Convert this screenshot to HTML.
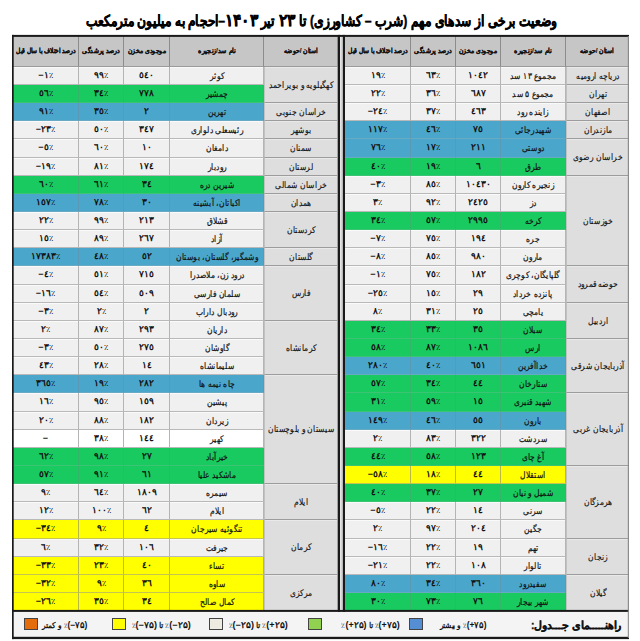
<!DOCTYPE html>
<html lang="fa"><head><meta charset="utf-8"><title>وضعیت سدها</title>
<style>
html,body{margin:0;padding:0;background:#fff;}
body{width:640px;height:641px;position:relative;overflow:hidden;font-family:"Liberation Sans",sans-serif;color:#111;}
.c{position:absolute;box-sizing:border-box;white-space:nowrap;overflow:hidden;border-right:1px solid #b4b4b4;border-bottom:1px solid #b9b9b9;}
.c span{position:absolute;left:50%;top:0;direction:rtl;transform:translateX(-50%) scaleX(.84);}
.h{background:#c6c6c6;font-weight:bold;font-size:7.3px;border-right:1px solid #8c8c8c;border-bottom:1px solid #9a9a9a;color:#111;}
.h span{top:-0.6px;-webkit-text-stroke:0.2px #111;}
.n{font-size:9px;font-weight:bold;}
.n span{direction:ltr;top:-1.2px;transform:translateX(-50%) scaleX(1);}
.n i{font-style:normal;font-weight:normal;font-size:8px;color:#000;}
.nm{font-size:9.3px;-webkit-text-stroke:0.2px #111;}
.pv{font-size:9.3px;-webkit-text-stroke:0.15px #111;background:#dedede;border-right:1px solid #a0a0a0;border-bottom:1px solid #9c9c9c;border-left:1px solid #c2c2c2;box-shadow:inset 0 1px 0 #e9e9e9;}
.w{background:#f0f0f0;box-shadow:inset 0 1px 0 #fafafa;}
.p{background:#ffffff;}
.g{background:#19ca60;border-color:#33b56a;border-bottom-color:#3cc474;}
.b{background:#4ba6cb;border-color:#5a9ab6;border-bottom-color:#68a9c4;}
.y{background:#ffff00;border-color:#b9b94a;border-bottom-color:#c4c450;}
.ln{position:absolute;background:#1c1c1c;}
#title{position:absolute;left:0;top:6.5px;width:643px;text-align:center;font-weight:bold;font-size:15px;direction:rtl;white-space:nowrap;line-height:28px;color:#000;-webkit-text-stroke:0.45px #000;transform:scaleX(0.813);}
#title b{display:inline-block;font-size:16.5px;line-height:10px;transform:scaleX(1.13);margin:0 2px;}
.lg{position:absolute;top:613px;height:24px;line-height:24px;font-size:7.5px;font-weight:bold;white-space:nowrap;color:#111;}
.lg span{position:absolute;right:0;top:0;direction:rtl;transform-origin:100% 50%;}
.lg i{font-style:normal;font-weight:normal;font-size:7px;}
.sq{position:absolute;top:617.5px;width:14px;height:12px;box-sizing:border-box;border:1px solid #444;}
</style></head>
<body>
<div id="title">وضعیت برخی از سدهای مهم (شرب – کشاورزی) تا <b>۲۳</b> تیر <b>۱۴۰۳</b>–احجام به میلیون مترمکعب</div>
<div class="c h" style="left:13px;top:36px;width:66px;height:31px;line-height:31px;"><span style="transform:translateX(-50%) scaleX(0.843)">درصد اختلاف با سال قبل</span></div>
<div class="c h" style="left:79px;top:36px;width:45px;height:31px;line-height:31px;"><span style="transform:translateX(-50%) scaleX(0.860)">درصد پرشدگی</span></div>
<div class="c h" style="left:124px;top:36px;width:46px;height:31px;line-height:31px;"><span style="transform:translateX(-50%) scaleX(0.864)">موجودی مخزن</span></div>
<div class="c h" style="left:170px;top:36px;width:94px;height:31px;line-height:31px;"><span style="transform:translateX(-50%) scaleX(0.893)">نام سد/زنجیره</span></div>
<div class="c h" style="left:264px;top:36px;width:74px;height:31px;line-height:31px;"><span style="transform:translateX(-50%) scaleX(0.872)">استان /حوضه</span></div>
<div class="c w n" style="left:13px;top:67px;width:66px;height:18px;line-height:18px;"><span>−۱<i>٪</i></span></div>
<div class="c w n" style="left:79px;top:67px;width:45px;height:18px;line-height:18px;"><span>۹۹<i>٪</i></span></div>
<div class="c w n" style="left:124px;top:67px;width:46px;height:18px;line-height:18px;"><span>٥٤۰</span></div>
<div class="c w nm" style="left:170px;top:67px;width:94px;height:18px;line-height:18px;"><span>کوثر</span></div>
<div class="c g n" style="left:13px;top:85px;width:66px;height:18px;line-height:18px;"><span>٥٦<i>٪</i></span></div>
<div class="c g n" style="left:79px;top:85px;width:45px;height:18px;line-height:18px;"><span>۳٤<i>٪</i></span></div>
<div class="c g n" style="left:124px;top:85px;width:46px;height:18px;line-height:18px;"><span>۷۷۸</span></div>
<div class="c g nm" style="left:170px;top:85px;width:94px;height:18px;line-height:18px;"><span>چمشیر</span></div>
<div class="c b n" style="left:13px;top:103px;width:66px;height:18px;line-height:18px;"><span>۹۱<i>٪</i></span></div>
<div class="c b n" style="left:79px;top:103px;width:45px;height:18px;line-height:18px;"><span>۳٥<i>٪</i></span></div>
<div class="c b n" style="left:124px;top:103px;width:46px;height:18px;line-height:18px;"><span>۲</span></div>
<div class="c b nm" style="left:170px;top:103px;width:94px;height:18px;line-height:18px;"><span>تهرین</span></div>
<div class="c w n" style="left:13px;top:121px;width:66px;height:18px;line-height:18px;"><span>−۲۳<i>٪</i></span></div>
<div class="c w n" style="left:79px;top:121px;width:45px;height:18px;line-height:18px;"><span>٥۰<i>٪</i></span></div>
<div class="c w n" style="left:124px;top:121px;width:46px;height:18px;line-height:18px;"><span>۳٤۷</span></div>
<div class="c w nm" style="left:170px;top:121px;width:94px;height:18px;line-height:18px;"><span>رئیسعلی دلواری</span></div>
<div class="c w n" style="left:13px;top:139px;width:66px;height:19px;line-height:19px;"><span>−٥<i>٪</i></span></div>
<div class="c w n" style="left:79px;top:139px;width:45px;height:19px;line-height:19px;"><span>٦۰<i>٪</i></span></div>
<div class="c w n" style="left:124px;top:139px;width:46px;height:19px;line-height:19px;"><span>۱۰</span></div>
<div class="c w nm" style="left:170px;top:139px;width:94px;height:19px;line-height:19px;"><span>دامغان</span></div>
<div class="c w n" style="left:13px;top:158px;width:66px;height:18px;line-height:18px;"><span>−۱۹<i>٪</i></span></div>
<div class="c w n" style="left:79px;top:158px;width:45px;height:18px;line-height:18px;"><span>۸۱<i>٪</i></span></div>
<div class="c w n" style="left:124px;top:158px;width:46px;height:18px;line-height:18px;"><span>۱۷٤</span></div>
<div class="c w nm" style="left:170px;top:158px;width:94px;height:18px;line-height:18px;"><span>رودبار</span></div>
<div class="c g n" style="left:13px;top:176px;width:66px;height:18px;line-height:18px;"><span>٦۰<i>٪</i></span></div>
<div class="c g n" style="left:79px;top:176px;width:45px;height:18px;line-height:18px;"><span>٦۱<i>٪</i></span></div>
<div class="c g n" style="left:124px;top:176px;width:46px;height:18px;line-height:18px;"><span>۳٤</span></div>
<div class="c g nm" style="left:170px;top:176px;width:94px;height:18px;line-height:18px;"><span>شیرین دره</span></div>
<div class="c b n" style="left:13px;top:194px;width:66px;height:18px;line-height:18px;"><span>۱٥۷<i>٪</i></span></div>
<div class="c b n" style="left:79px;top:194px;width:45px;height:18px;line-height:18px;"><span>۷۸<i>٪</i></span></div>
<div class="c b n" style="left:124px;top:194px;width:46px;height:18px;line-height:18px;"><span>۳۰</span></div>
<div class="c b nm" style="left:170px;top:194px;width:94px;height:18px;line-height:18px;"><span>اکباتان، آبشینه</span></div>
<div class="c w n" style="left:13px;top:212px;width:66px;height:18px;line-height:18px;"><span>۲۲<i>٪</i></span></div>
<div class="c w n" style="left:79px;top:212px;width:45px;height:18px;line-height:18px;"><span>۹۹<i>٪</i></span></div>
<div class="c w n" style="left:124px;top:212px;width:46px;height:18px;line-height:18px;"><span>۲۱۳</span></div>
<div class="c w nm" style="left:170px;top:212px;width:94px;height:18px;line-height:18px;"><span>قشلاق</span></div>
<div class="c w n" style="left:13px;top:230px;width:66px;height:18px;line-height:18px;"><span>۱٥<i>٪</i></span></div>
<div class="c w n" style="left:79px;top:230px;width:45px;height:18px;line-height:18px;"><span>۸۹<i>٪</i></span></div>
<div class="c w n" style="left:124px;top:230px;width:46px;height:18px;line-height:18px;"><span>۲٦۷</span></div>
<div class="c w nm" style="left:170px;top:230px;width:94px;height:18px;line-height:18px;"><span>آزاد</span></div>
<div class="c b n" style="left:13px;top:248px;width:66px;height:18px;line-height:18px;"><span>۱۷۳۸۳<i>٪</i></span></div>
<div class="c b n" style="left:79px;top:248px;width:45px;height:18px;line-height:18px;"><span>٤۸<i>٪</i></span></div>
<div class="c b n" style="left:124px;top:248px;width:46px;height:18px;line-height:18px;"><span>٥۲</span></div>
<div class="c b nm" style="left:170px;top:248px;width:94px;height:18px;line-height:18px;"><span>وشمگیر، گلستان، بوستان</span></div>
<div class="c w n" style="left:13px;top:266px;width:66px;height:19px;line-height:19px;"><span>−٤<i>٪</i></span></div>
<div class="c w n" style="left:79px;top:266px;width:45px;height:19px;line-height:19px;"><span>٥۱<i>٪</i></span></div>
<div class="c w n" style="left:124px;top:266px;width:46px;height:19px;line-height:19px;"><span>۷۱٥</span></div>
<div class="c w nm" style="left:170px;top:266px;width:94px;height:19px;line-height:19px;"><span>درود زن، ملاصدرا</span></div>
<div class="c w n" style="left:13px;top:285px;width:66px;height:18px;line-height:18px;"><span>−۱٦<i>٪</i></span></div>
<div class="c w n" style="left:79px;top:285px;width:45px;height:18px;line-height:18px;"><span>٥٤<i>٪</i></span></div>
<div class="c w n" style="left:124px;top:285px;width:46px;height:18px;line-height:18px;"><span>٥۰۹</span></div>
<div class="c w nm" style="left:170px;top:285px;width:94px;height:18px;line-height:18px;"><span>سلمان فارسی</span></div>
<div class="c w n" style="left:13px;top:303px;width:66px;height:18px;line-height:18px;"><span>−۳<i>٪</i></span></div>
<div class="c w n" style="left:79px;top:303px;width:45px;height:18px;line-height:18px;"><span>۲<i>٪</i></span></div>
<div class="c w n" style="left:124px;top:303px;width:46px;height:18px;line-height:18px;"><span>۲</span></div>
<div class="c w nm" style="left:170px;top:303px;width:94px;height:18px;line-height:18px;"><span>رودبال داراب</span></div>
<div class="c w n" style="left:13px;top:321px;width:66px;height:18px;line-height:18px;"><span>۲<i>٪</i></span></div>
<div class="c w n" style="left:79px;top:321px;width:45px;height:18px;line-height:18px;"><span>۸۷<i>٪</i></span></div>
<div class="c w n" style="left:124px;top:321px;width:46px;height:18px;line-height:18px;"><span>۲۹۳</span></div>
<div class="c w nm" style="left:170px;top:321px;width:94px;height:18px;line-height:18px;"><span>داریان</span></div>
<div class="c w n" style="left:13px;top:339px;width:66px;height:18px;line-height:18px;"><span>−۳<i>٪</i></span></div>
<div class="c w n" style="left:79px;top:339px;width:45px;height:18px;line-height:18px;"><span>٥۰<i>٪</i></span></div>
<div class="c w n" style="left:124px;top:339px;width:46px;height:18px;line-height:18px;"><span>۲۷٥</span></div>
<div class="c w nm" style="left:170px;top:339px;width:94px;height:18px;line-height:18px;"><span>گاوشان</span></div>
<div class="c w n" style="left:13px;top:357px;width:66px;height:18px;line-height:18px;"><span>٤۳<i>٪</i></span></div>
<div class="c w n" style="left:79px;top:357px;width:45px;height:18px;line-height:18px;"><span>۲۸<i>٪</i></span></div>
<div class="c w n" style="left:124px;top:357px;width:46px;height:18px;line-height:18px;"><span>۱٤</span></div>
<div class="c w nm" style="left:170px;top:357px;width:94px;height:18px;line-height:18px;"><span>سلیمانشاه</span></div>
<div class="c b n" style="left:13px;top:375px;width:66px;height:18px;line-height:18px;"><span>۳٦٥<i>٪</i></span></div>
<div class="c b n" style="left:79px;top:375px;width:45px;height:18px;line-height:18px;"><span>۱۹<i>٪</i></span></div>
<div class="c b n" style="left:124px;top:375px;width:46px;height:18px;line-height:18px;"><span>۲۸۲</span></div>
<div class="c b nm" style="left:170px;top:375px;width:94px;height:18px;line-height:18px;"><span>چاه نیمه ها</span></div>
<div class="c w n" style="left:13px;top:393px;width:66px;height:19px;line-height:19px;"><span>۱٦<i>٪</i></span></div>
<div class="c w n" style="left:79px;top:393px;width:45px;height:19px;line-height:19px;"><span>۹٥<i>٪</i></span></div>
<div class="c w n" style="left:124px;top:393px;width:46px;height:19px;line-height:19px;"><span>۱٥۹</span></div>
<div class="c w nm" style="left:170px;top:393px;width:94px;height:19px;line-height:19px;"><span>پیشین</span></div>
<div class="c w n" style="left:13px;top:412px;width:66px;height:18px;line-height:18px;"><span>۲۰<i>٪</i></span></div>
<div class="c w n" style="left:79px;top:412px;width:45px;height:18px;line-height:18px;"><span>۸۸<i>٪</i></span></div>
<div class="c w n" style="left:124px;top:412px;width:46px;height:18px;line-height:18px;"><span>۱۸۲</span></div>
<div class="c w nm" style="left:170px;top:412px;width:94px;height:18px;line-height:18px;"><span>زیردان</span></div>
<div class="c p n" style="left:13px;top:430px;width:66px;height:18px;line-height:18px;"><span>−</span></div>
<div class="c p n" style="left:79px;top:430px;width:45px;height:18px;line-height:18px;"><span>۳۸<i>٪</i></span></div>
<div class="c p n" style="left:124px;top:430px;width:46px;height:18px;line-height:18px;"><span>۱٤٤</span></div>
<div class="c p nm" style="left:170px;top:430px;width:94px;height:18px;line-height:18px;"><span>کهیر</span></div>
<div class="c g n" style="left:13px;top:448px;width:66px;height:18px;line-height:18px;"><span>٦۲<i>٪</i></span></div>
<div class="c g n" style="left:79px;top:448px;width:45px;height:18px;line-height:18px;"><span>۹۸<i>٪</i></span></div>
<div class="c g n" style="left:124px;top:448px;width:46px;height:18px;line-height:18px;"><span>۲۷</span></div>
<div class="c g nm" style="left:170px;top:448px;width:94px;height:18px;line-height:18px;"><span>خیرآباد</span></div>
<div class="c g n" style="left:13px;top:466px;width:66px;height:18px;line-height:18px;"><span>٥۷<i>٪</i></span></div>
<div class="c g n" style="left:79px;top:466px;width:45px;height:18px;line-height:18px;"><span>۹۱<i>٪</i></span></div>
<div class="c g n" style="left:124px;top:466px;width:46px;height:18px;line-height:18px;"><span>٦۱</span></div>
<div class="c g nm" style="left:170px;top:466px;width:94px;height:18px;line-height:18px;"><span>ماشکید علیا</span></div>
<div class="c w n" style="left:13px;top:484px;width:66px;height:18px;line-height:18px;"><span>۹<i>٪</i></span></div>
<div class="c w n" style="left:79px;top:484px;width:45px;height:18px;line-height:18px;"><span>٦٤<i>٪</i></span></div>
<div class="c w n" style="left:124px;top:484px;width:46px;height:18px;line-height:18px;"><span>۱۸۰۹</span></div>
<div class="c w nm" style="left:170px;top:484px;width:94px;height:18px;line-height:18px;"><span>سیمره</span></div>
<div class="c w n" style="left:13px;top:502px;width:66px;height:18px;line-height:18px;"><span>۱۲<i>٪</i></span></div>
<div class="c w n" style="left:79px;top:502px;width:45px;height:18px;line-height:18px;"><span>۱۰۰<i>٪</i></span></div>
<div class="c w n" style="left:124px;top:502px;width:46px;height:18px;line-height:18px;"><span>٦۲</span></div>
<div class="c w nm" style="left:170px;top:502px;width:94px;height:18px;line-height:18px;"><span>ایلام</span></div>
<div class="c y n" style="left:13px;top:520px;width:66px;height:19px;line-height:19px;"><span>−۳٤<i>٪</i></span></div>
<div class="c y n" style="left:79px;top:520px;width:45px;height:19px;line-height:19px;"><span>۹<i>٪</i></span></div>
<div class="c y n" style="left:124px;top:520px;width:46px;height:19px;line-height:19px;"><span>٤</span></div>
<div class="c y nm" style="left:170px;top:520px;width:94px;height:19px;line-height:19px;"><span>تنگوئیه سیرجان</span></div>
<div class="c w n" style="left:13px;top:539px;width:66px;height:18px;line-height:18px;"><span>٦<i>٪</i></span></div>
<div class="c w n" style="left:79px;top:539px;width:45px;height:18px;line-height:18px;"><span>۳۲<i>٪</i></span></div>
<div class="c w n" style="left:124px;top:539px;width:46px;height:18px;line-height:18px;"><span>۱۰٦</span></div>
<div class="c w nm" style="left:170px;top:539px;width:94px;height:18px;line-height:18px;"><span>جیرفت</span></div>
<div class="c y n" style="left:13px;top:557px;width:66px;height:18px;line-height:18px;"><span>−۳۳<i>٪</i></span></div>
<div class="c y n" style="left:79px;top:557px;width:45px;height:18px;line-height:18px;"><span>۲۳<i>٪</i></span></div>
<div class="c y n" style="left:124px;top:557px;width:46px;height:18px;line-height:18px;"><span>٤۰</span></div>
<div class="c y nm" style="left:170px;top:557px;width:94px;height:18px;line-height:18px;"><span>تساء</span></div>
<div class="c y n" style="left:13px;top:575px;width:66px;height:18px;line-height:18px;"><span>−۳۲<i>٪</i></span></div>
<div class="c y n" style="left:79px;top:575px;width:45px;height:18px;line-height:18px;"><span>۹<i>٪</i></span></div>
<div class="c y n" style="left:124px;top:575px;width:46px;height:18px;line-height:18px;"><span>۳٦</span></div>
<div class="c y nm" style="left:170px;top:575px;width:94px;height:18px;line-height:18px;"><span>ساوه</span></div>
<div class="c y n" style="left:13px;top:593px;width:66px;height:18px;line-height:18px;"><span>−۲٦<i>٪</i></span></div>
<div class="c y n" style="left:79px;top:593px;width:45px;height:18px;line-height:18px;"><span>۳٥<i>٪</i></span></div>
<div class="c y n" style="left:124px;top:593px;width:46px;height:18px;line-height:18px;"><span>۳٤</span></div>
<div class="c y nm" style="left:170px;top:593px;width:94px;height:18px;line-height:18px;"><span>کمال صالح</span></div>
<div class="c pv" style="left:264px;top:67px;width:74px;height:36px;line-height:36px;"><span>کهگیلویه و بویراحمد</span></div>
<div class="c pv" style="left:264px;top:103px;width:74px;height:18px;line-height:18px;"><span>خراسان جنوبی</span></div>
<div class="c pv" style="left:264px;top:121px;width:74px;height:18px;line-height:18px;"><span>بوشهر</span></div>
<div class="c pv" style="left:264px;top:139px;width:74px;height:19px;line-height:19px;"><span>سمنان</span></div>
<div class="c pv" style="left:264px;top:158px;width:74px;height:18px;line-height:18px;"><span>لرستان</span></div>
<div class="c pv" style="left:264px;top:176px;width:74px;height:18px;line-height:18px;"><span>خراسان شمالی</span></div>
<div class="c pv" style="left:264px;top:194px;width:74px;height:18px;line-height:18px;"><span>همدان</span></div>
<div class="c pv" style="left:264px;top:212px;width:74px;height:36px;line-height:36px;"><span>کردستان</span></div>
<div class="c pv" style="left:264px;top:248px;width:74px;height:18px;line-height:18px;"><span>گلستان</span></div>
<div class="c pv" style="left:264px;top:266px;width:74px;height:55px;line-height:55px;"><span>فارس</span></div>
<div class="c pv" style="left:264px;top:321px;width:74px;height:54px;line-height:54px;"><span>کرمانشاه</span></div>
<div class="c pv" style="left:264px;top:375px;width:74px;height:109px;line-height:109px;"><span>سیستان و بلوچستان</span></div>
<div class="c pv" style="left:264px;top:484px;width:74px;height:36px;line-height:36px;"><span>ایلام</span></div>
<div class="c pv" style="left:264px;top:520px;width:74px;height:55px;line-height:55px;"><span>کرمان</span></div>
<div class="c pv" style="left:264px;top:575px;width:74px;height:36px;line-height:36px;"><span>مرکزی</span></div>
<div class="c h" style="left:345px;top:36px;width:66px;height:31px;line-height:31px;"><span style="transform:translateX(-50%) scaleX(0.843)">درصد اختلاف با سال قبل</span></div>
<div class="c h" style="left:411px;top:36px;width:45px;height:31px;line-height:31px;"><span style="transform:translateX(-50%) scaleX(0.860)">درصد پرشدگی</span></div>
<div class="c h" style="left:456px;top:36px;width:45px;height:31px;line-height:31px;"><span style="transform:translateX(-50%) scaleX(0.864)">موجودی مخزن</span></div>
<div class="c h" style="left:501px;top:36px;width:65px;height:31px;line-height:31px;"><span style="transform:translateX(-50%) scaleX(0.893)">نام سد/زنجیره</span></div>
<div class="c h" style="left:566px;top:36px;width:63px;height:31px;line-height:31px;"><span style="transform:translateX(-50%) scaleX(0.872)">استان /حوضه</span></div>
<div class="c w n" style="left:345px;top:67px;width:66px;height:18px;line-height:18px;"><span>۱۹<i>٪</i></span></div>
<div class="c w n" style="left:411px;top:67px;width:45px;height:18px;line-height:18px;"><span>٦۳<i>٪</i></span></div>
<div class="c w n" style="left:456px;top:67px;width:45px;height:18px;line-height:18px;"><span>۱۰٤۲</span></div>
<div class="c w nm" style="left:501px;top:67px;width:65px;height:18px;line-height:18px;"><span>مجموع ۱۳ سد</span></div>
<div class="c w n" style="left:345px;top:85px;width:66px;height:18px;line-height:18px;"><span>۲۲<i>٪</i></span></div>
<div class="c w n" style="left:411px;top:85px;width:45px;height:18px;line-height:18px;"><span>۳٦<i>٪</i></span></div>
<div class="c w n" style="left:456px;top:85px;width:45px;height:18px;line-height:18px;"><span>٦۸۷</span></div>
<div class="c w nm" style="left:501px;top:85px;width:65px;height:18px;line-height:18px;"><span>مجموع ۵ سد</span></div>
<div class="c w n" style="left:345px;top:103px;width:66px;height:18px;line-height:18px;"><span>−۲٤<i>٪</i></span></div>
<div class="c w n" style="left:411px;top:103px;width:45px;height:18px;line-height:18px;"><span>۳۷<i>٪</i></span></div>
<div class="c w n" style="left:456px;top:103px;width:45px;height:18px;line-height:18px;"><span>٤٦۳</span></div>
<div class="c w nm" style="left:501px;top:103px;width:65px;height:18px;line-height:18px;"><span>زاینده رود</span></div>
<div class="c b n" style="left:345px;top:121px;width:66px;height:18px;line-height:18px;"><span>۱۱۷<i>٪</i></span></div>
<div class="c b n" style="left:411px;top:121px;width:45px;height:18px;line-height:18px;"><span>٤٦<i>٪</i></span></div>
<div class="c b n" style="left:456px;top:121px;width:45px;height:18px;line-height:18px;"><span>۷٥</span></div>
<div class="c b nm" style="left:501px;top:121px;width:65px;height:18px;line-height:18px;"><span>شهیدرجائی</span></div>
<div class="c b n" style="left:345px;top:139px;width:66px;height:19px;line-height:19px;"><span>۷٦<i>٪</i></span></div>
<div class="c b n" style="left:411px;top:139px;width:45px;height:19px;line-height:19px;"><span>۱۷<i>٪</i></span></div>
<div class="c b n" style="left:456px;top:139px;width:45px;height:19px;line-height:19px;"><span>۲۱۱</span></div>
<div class="c b nm" style="left:501px;top:139px;width:65px;height:19px;line-height:19px;"><span>دوستی</span></div>
<div class="c g n" style="left:345px;top:158px;width:66px;height:18px;line-height:18px;"><span>٤۰<i>٪</i></span></div>
<div class="c g n" style="left:411px;top:158px;width:45px;height:18px;line-height:18px;"><span>۱۹<i>٪</i></span></div>
<div class="c g n" style="left:456px;top:158px;width:45px;height:18px;line-height:18px;"><span>٦</span></div>
<div class="c g nm" style="left:501px;top:158px;width:65px;height:18px;line-height:18px;"><span>طرق</span></div>
<div class="c w n" style="left:345px;top:176px;width:66px;height:18px;line-height:18px;"><span>−۳<i>٪</i></span></div>
<div class="c w n" style="left:411px;top:176px;width:45px;height:18px;line-height:18px;"><span>۸٥<i>٪</i></span></div>
<div class="c w n" style="left:456px;top:176px;width:45px;height:18px;line-height:18px;"><span>۱۰٤۳۰</span></div>
<div class="c w nm" style="left:501px;top:176px;width:65px;height:18px;line-height:18px;"><span>زنجیره کارون</span></div>
<div class="c w n" style="left:345px;top:194px;width:66px;height:18px;line-height:18px;"><span>۳<i>٪</i></span></div>
<div class="c w n" style="left:411px;top:194px;width:45px;height:18px;line-height:18px;"><span>۹۲<i>٪</i></span></div>
<div class="c w n" style="left:456px;top:194px;width:45px;height:18px;line-height:18px;"><span>۲٤۲٥</span></div>
<div class="c w nm" style="left:501px;top:194px;width:65px;height:18px;line-height:18px;"><span>دز</span></div>
<div class="c g n" style="left:345px;top:212px;width:66px;height:18px;line-height:18px;"><span>۳٤<i>٪</i></span></div>
<div class="c g n" style="left:411px;top:212px;width:45px;height:18px;line-height:18px;"><span>٥۷<i>٪</i></span></div>
<div class="c g n" style="left:456px;top:212px;width:45px;height:18px;line-height:18px;"><span>۲۹۹٥</span></div>
<div class="c g nm" style="left:501px;top:212px;width:65px;height:18px;line-height:18px;"><span>کرخه</span></div>
<div class="c w n" style="left:345px;top:230px;width:66px;height:18px;line-height:18px;"><span>−۷<i>٪</i></span></div>
<div class="c w n" style="left:411px;top:230px;width:45px;height:18px;line-height:18px;"><span>۷٥<i>٪</i></span></div>
<div class="c w n" style="left:456px;top:230px;width:45px;height:18px;line-height:18px;"><span>۱۹٤</span></div>
<div class="c w nm" style="left:501px;top:230px;width:65px;height:18px;line-height:18px;"><span>جره</span></div>
<div class="c w n" style="left:345px;top:248px;width:66px;height:18px;line-height:18px;"><span>−۸<i>٪</i></span></div>
<div class="c w n" style="left:411px;top:248px;width:45px;height:18px;line-height:18px;"><span>۸٥<i>٪</i></span></div>
<div class="c w n" style="left:456px;top:248px;width:45px;height:18px;line-height:18px;"><span>۹۸۰</span></div>
<div class="c w nm" style="left:501px;top:248px;width:65px;height:18px;line-height:18px;"><span>مارون</span></div>
<div class="c w n" style="left:345px;top:266px;width:66px;height:19px;line-height:19px;"><span>−۱<i>٪</i></span></div>
<div class="c w n" style="left:411px;top:266px;width:45px;height:19px;line-height:19px;"><span>۷٥<i>٪</i></span></div>
<div class="c w n" style="left:456px;top:266px;width:45px;height:19px;line-height:19px;"><span>۱۸۲</span></div>
<div class="c w nm" style="left:501px;top:266px;width:65px;height:19px;line-height:19px;"><span>گلپایگان، کوچری</span></div>
<div class="c w n" style="left:345px;top:285px;width:66px;height:18px;line-height:18px;"><span>−۲٥<i>٪</i></span></div>
<div class="c w n" style="left:411px;top:285px;width:45px;height:18px;line-height:18px;"><span>۱٥<i>٪</i></span></div>
<div class="c w n" style="left:456px;top:285px;width:45px;height:18px;line-height:18px;"><span>۲۹</span></div>
<div class="c w nm" style="left:501px;top:285px;width:65px;height:18px;line-height:18px;"><span>پانزده خرداد</span></div>
<div class="c w n" style="left:345px;top:303px;width:66px;height:18px;line-height:18px;"><span>۸<i>٪</i></span></div>
<div class="c w n" style="left:411px;top:303px;width:45px;height:18px;line-height:18px;"><span>۳۱<i>٪</i></span></div>
<div class="c w n" style="left:456px;top:303px;width:45px;height:18px;line-height:18px;"><span>۲٥</span></div>
<div class="c w nm" style="left:501px;top:303px;width:65px;height:18px;line-height:18px;"><span>یامچی</span></div>
<div class="c g n" style="left:345px;top:321px;width:66px;height:18px;line-height:18px;"><span>۳٤<i>٪</i></span></div>
<div class="c g n" style="left:411px;top:321px;width:45px;height:18px;line-height:18px;"><span>۳۳<i>٪</i></span></div>
<div class="c g n" style="left:456px;top:321px;width:45px;height:18px;line-height:18px;"><span>۳٥</span></div>
<div class="c g nm" style="left:501px;top:321px;width:65px;height:18px;line-height:18px;"><span>سبلان</span></div>
<div class="c g n" style="left:345px;top:339px;width:66px;height:18px;line-height:18px;"><span>٥۸<i>٪</i></span></div>
<div class="c g n" style="left:411px;top:339px;width:45px;height:18px;line-height:18px;"><span>۸۷<i>٪</i></span></div>
<div class="c g n" style="left:456px;top:339px;width:45px;height:18px;line-height:18px;"><span>۱۰۸٦</span></div>
<div class="c g nm" style="left:501px;top:339px;width:65px;height:18px;line-height:18px;"><span>ارس</span></div>
<div class="c b n" style="left:345px;top:357px;width:66px;height:18px;line-height:18px;"><span>۲۸۰<i>٪</i></span></div>
<div class="c b n" style="left:411px;top:357px;width:45px;height:18px;line-height:18px;"><span>٤۰<i>٪</i></span></div>
<div class="c b n" style="left:456px;top:357px;width:45px;height:18px;line-height:18px;"><span>٦٥۱</span></div>
<div class="c b nm" style="left:501px;top:357px;width:65px;height:18px;line-height:18px;"><span>خداآفرین</span></div>
<div class="c g n" style="left:345px;top:375px;width:66px;height:18px;line-height:18px;"><span>٥۷<i>٪</i></span></div>
<div class="c g n" style="left:411px;top:375px;width:45px;height:18px;line-height:18px;"><span>۳٤<i>٪</i></span></div>
<div class="c g n" style="left:456px;top:375px;width:45px;height:18px;line-height:18px;"><span>٤٤</span></div>
<div class="c g nm" style="left:501px;top:375px;width:65px;height:18px;line-height:18px;"><span>ستارخان</span></div>
<div class="c g n" style="left:345px;top:393px;width:66px;height:19px;line-height:19px;"><span>۳۱<i>٪</i></span></div>
<div class="c g n" style="left:411px;top:393px;width:45px;height:19px;line-height:19px;"><span>٥۹<i>٪</i></span></div>
<div class="c g n" style="left:456px;top:393px;width:45px;height:19px;line-height:19px;"><span>۱٥</span></div>
<div class="c g nm" style="left:501px;top:393px;width:65px;height:19px;line-height:19px;"><span>شهید قنبری</span></div>
<div class="c b n" style="left:345px;top:412px;width:66px;height:18px;line-height:18px;"><span>۱٤۹<i>٪</i></span></div>
<div class="c b n" style="left:411px;top:412px;width:45px;height:18px;line-height:18px;"><span>٤٦<i>٪</i></span></div>
<div class="c b n" style="left:456px;top:412px;width:45px;height:18px;line-height:18px;"><span>٥٥</span></div>
<div class="c b nm" style="left:501px;top:412px;width:65px;height:18px;line-height:18px;"><span>بارون</span></div>
<div class="c w n" style="left:345px;top:430px;width:66px;height:18px;line-height:18px;"><span>۲<i>٪</i></span></div>
<div class="c w n" style="left:411px;top:430px;width:45px;height:18px;line-height:18px;"><span>۸۳<i>٪</i></span></div>
<div class="c w n" style="left:456px;top:430px;width:45px;height:18px;line-height:18px;"><span>۳۲۲</span></div>
<div class="c w nm" style="left:501px;top:430px;width:65px;height:18px;line-height:18px;"><span>سردشت</span></div>
<div class="c g n" style="left:345px;top:448px;width:66px;height:18px;line-height:18px;"><span>٤٤<i>٪</i></span></div>
<div class="c g n" style="left:411px;top:448px;width:45px;height:18px;line-height:18px;"><span>٥۸<i>٪</i></span></div>
<div class="c g n" style="left:456px;top:448px;width:45px;height:18px;line-height:18px;"><span>۱۲۳</span></div>
<div class="c g nm" style="left:501px;top:448px;width:65px;height:18px;line-height:18px;"><span>آغ چای</span></div>
<div class="c y n" style="left:345px;top:466px;width:66px;height:18px;line-height:18px;"><span>−٥۸<i>٪</i></span></div>
<div class="c y n" style="left:411px;top:466px;width:45px;height:18px;line-height:18px;"><span>۱۸<i>٪</i></span></div>
<div class="c y n" style="left:456px;top:466px;width:45px;height:18px;line-height:18px;"><span>٤٤</span></div>
<div class="c y nm" style="left:501px;top:466px;width:65px;height:18px;line-height:18px;"><span>استقلال</span></div>
<div class="c g n" style="left:345px;top:484px;width:66px;height:18px;line-height:18px;"><span>٤۰<i>٪</i></span></div>
<div class="c g n" style="left:411px;top:484px;width:45px;height:18px;line-height:18px;"><span>۳۷<i>٪</i></span></div>
<div class="c g n" style="left:456px;top:484px;width:45px;height:18px;line-height:18px;"><span>۲۷</span></div>
<div class="c g nm" style="left:501px;top:484px;width:65px;height:18px;line-height:18px;"><span>شمیل و نیان</span></div>
<div class="c w n" style="left:345px;top:502px;width:66px;height:18px;line-height:18px;"><span>−٥<i>٪</i></span></div>
<div class="c w n" style="left:411px;top:502px;width:45px;height:18px;line-height:18px;"><span>۲۲<i>٪</i></span></div>
<div class="c w n" style="left:456px;top:502px;width:45px;height:18px;line-height:18px;"><span>۱٤</span></div>
<div class="c w nm" style="left:501px;top:502px;width:65px;height:18px;line-height:18px;"><span>سرنی</span></div>
<div class="c w n" style="left:345px;top:520px;width:66px;height:19px;line-height:19px;"><span>۲<i>٪</i></span></div>
<div class="c w n" style="left:411px;top:520px;width:45px;height:19px;line-height:19px;"><span>۹۷<i>٪</i></span></div>
<div class="c w n" style="left:456px;top:520px;width:45px;height:19px;line-height:19px;"><span>۲۰٤</span></div>
<div class="c w nm" style="left:501px;top:520px;width:65px;height:19px;line-height:19px;"><span>جگین</span></div>
<div class="c w n" style="left:345px;top:539px;width:66px;height:18px;line-height:18px;"><span>−۱٦<i>٪</i></span></div>
<div class="c w n" style="left:411px;top:539px;width:45px;height:18px;line-height:18px;"><span>۲۲<i>٪</i></span></div>
<div class="c w n" style="left:456px;top:539px;width:45px;height:18px;line-height:18px;"><span>۱۹</span></div>
<div class="c w nm" style="left:501px;top:539px;width:65px;height:18px;line-height:18px;"><span>تهم</span></div>
<div class="c w n" style="left:345px;top:557px;width:66px;height:18px;line-height:18px;"><span>−۲۱<i>٪</i></span></div>
<div class="c w n" style="left:411px;top:557px;width:45px;height:18px;line-height:18px;"><span>۲۲<i>٪</i></span></div>
<div class="c w n" style="left:456px;top:557px;width:45px;height:18px;line-height:18px;"><span>۱۰۸</span></div>
<div class="c w nm" style="left:501px;top:557px;width:65px;height:18px;line-height:18px;"><span>تالوار</span></div>
<div class="c b n" style="left:345px;top:575px;width:66px;height:18px;line-height:18px;"><span>۸۰<i>٪</i></span></div>
<div class="c b n" style="left:411px;top:575px;width:45px;height:18px;line-height:18px;"><span>۳٤<i>٪</i></span></div>
<div class="c b n" style="left:456px;top:575px;width:45px;height:18px;line-height:18px;"><span>۳٦۰</span></div>
<div class="c b nm" style="left:501px;top:575px;width:65px;height:18px;line-height:18px;"><span>سفیدرود</span></div>
<div class="c g n" style="left:345px;top:593px;width:66px;height:18px;line-height:18px;"><span>۳۰<i>٪</i></span></div>
<div class="c g n" style="left:411px;top:593px;width:45px;height:18px;line-height:18px;"><span>۷۳<i>٪</i></span></div>
<div class="c g n" style="left:456px;top:593px;width:45px;height:18px;line-height:18px;"><span>۷٦</span></div>
<div class="c g nm" style="left:501px;top:593px;width:65px;height:18px;line-height:18px;"><span>شهر بیجار</span></div>
<div class="c pv" style="left:566px;top:67px;width:63px;height:18px;line-height:18px;"><span>دریاچه ارومیه</span></div>
<div class="c pv" style="left:566px;top:85px;width:63px;height:18px;line-height:18px;"><span>تهران</span></div>
<div class="c pv" style="left:566px;top:103px;width:63px;height:18px;line-height:18px;"><span>اصفهان</span></div>
<div class="c pv" style="left:566px;top:121px;width:63px;height:18px;line-height:18px;"><span>مازندران</span></div>
<div class="c pv" style="left:566px;top:139px;width:63px;height:37px;line-height:37px;"><span>خراسان رضوی</span></div>
<div class="c pv" style="left:566px;top:176px;width:63px;height:90px;line-height:90px;"><span>خوزستان</span></div>
<div class="c pv" style="left:566px;top:266px;width:63px;height:37px;line-height:37px;"><span>حوضه قمرود</span></div>
<div class="c pv" style="left:566px;top:303px;width:63px;height:36px;line-height:36px;"><span>اردبیل</span></div>
<div class="c pv" style="left:566px;top:339px;width:63px;height:54px;line-height:54px;"><span>آذربایجان شرقی</span></div>
<div class="c pv" style="left:566px;top:393px;width:63px;height:73px;line-height:73px;"><span>آذربایجان غربی</span></div>
<div class="c pv" style="left:566px;top:466px;width:63px;height:73px;line-height:73px;"><span>هرمزگان</span></div>
<div class="c pv" style="left:566px;top:539px;width:63px;height:36px;line-height:36px;"><span>زنجان</span></div>
<div class="c pv" style="left:566px;top:575px;width:63px;height:36px;line-height:36px;"><span>گیلان</span></div>
<div class="c" style="left:13px;top:611px;width:615px;height:26px;background:#f4f4f4;border:none;"></div>
<div class="lg" id="lg0" style="left:421px;width:200px;font-size:10.5px;-webkit-text-stroke:0.3px #111;"><span style="transform:scaleX(0.989)">راهنـــــمای جـــدول:</span></div>
<div class="lg" id="lg1" style="left:286.5px;width:200px;"><span style="transform:scaleX(0.930)"><bdo dir="ltr" style="font-size:9px">(+۷۵)</bdo><i>٪</i> و بیشتر</span></div>
<div class="sq" style="left:408.5px;background:#558ed5;"></div>
<div class="lg" id="lg2" style="left:200px;width:200px;"><span style="transform:scaleX(0.992)"><bdo dir="ltr" style="font-size:9px">(+۷۵)</bdo><i>٪</i> تا <bdo dir="ltr" style="font-size:9px">(+۲۵)</bdo><i>٪</i></span></div>
<div class="sq" style="left:308px;background:#92d050;"></div>
<div class="lg" id="lg3" style="left:87.3px;width:200px;"><span style="transform:scaleX(1.008)"><bdo dir="ltr" style="font-size:9px">(+۲۵)</bdo><i>٪</i> تا <bdo dir="ltr" style="font-size:9px">(−۲۵)</bdo><i>٪</i></span></div>
<div class="sq" style="left:208.5px;background:#eeece1;"></div>
<div class="lg" id="lg4" style="left:-9px;width:200px;"><span style="transform:scaleX(1.008)"><bdo dir="ltr" style="font-size:9px">(−۲۵)</bdo><i>٪</i> تا <bdo dir="ltr" style="font-size:9px">(−۷۵)</bdo><i>٪</i></span></div>
<div class="sq" style="left:112px;background:#ffff00;"></div>
<div class="lg" id="lg5" style="left:-113px;width:200px;"><span style="transform:scaleX(0.938)"><bdo dir="ltr" style="font-size:9px">(−۷۵)</bdo><i>٪</i> و کمتر</span></div>
<div class="sq" style="left:23.5px;background:#e46c0a;"></div>

<svg width="640" height="641" style="position:absolute;left:0;top:0">
<g fill="#1a1a1a">
<rect x="12" y="34.9" width="617" height="2"/>
<rect x="12" y="34.9" width="1.7" height="604.2"/>
<rect x="338" y="34.9" width="2.1" height="577"/>
<rect x="342.7" y="34.9" width="2.3" height="577"/>
<rect x="12" y="609.9" width="617" height="2"/>
<rect x="12" y="636.8" width="617" height="2.3"/>
</g>
<rect x="627.8" y="36" width="1.1" height="602" fill="#8a8a8a"/>
<rect x="340.9" y="37" width="1" height="573" fill="#cfcfcf"/>
</svg>

</body></html>
